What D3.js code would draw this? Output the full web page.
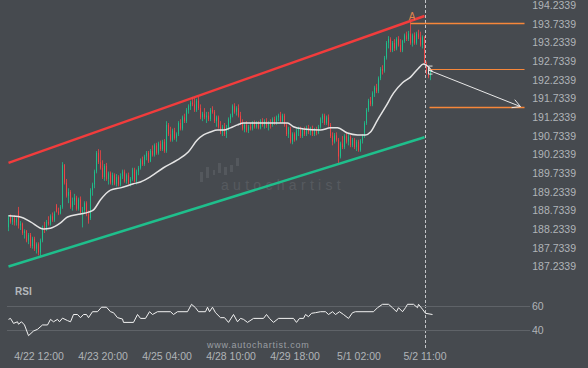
<!DOCTYPE html>
<html><head><meta charset="utf-8">
<script src="https://cdn.jsdelivr.net/npm/d3@7/dist/d3.min.js"></script>
<style>
html,body{margin:0;padding:0;background:#464a4f;overflow:hidden;}
svg{display:block;font-family:"Liberation Sans",Arial,Helvetica,sans-serif;}
</style></head>
<body><svg id="c" width="588" height="368"></svg>
<script>
// ---- DATA (hourly candles, index 0..211) ----
const open=[188.25,188.52,188.40,188.50,188.38,188.70,188.30,188.35,188.10,188.15,187.90,188.05,187.75,187.95,187.68,187.80,187.58,187.90,188.25,188.20,
188.40,188.35,188.55,188.45,188.85,188.68,188.62,188.80,189.92,189.45,189.10,189.20,188.80,188.95,189.05,188.75,189.00,188.65,188.72,188.90,
188.60,188.50,189.25,189.40,189.75,190.25,190.00,189.85,189.60,189.90,189.55,189.70,189.45,189.65,189.42,189.60,189.40,189.62,189.75,189.50,
189.65,189.45,189.55,189.80,189.50,189.75,189.85,190.05,189.95,190.15,190.25,190.02,190.30,190.20,190.45,190.25,190.50,190.35,190.55,190.30,
191.00,190.75,190.60,190.85,190.65,190.75,191.05,190.90,191.20,191.10,191.40,191.50,191.60,191.55,191.40,191.65,191.45,191.20,191.30,191.20,
191.25,191.15,191.40,191.35,191.10,191.20,190.95,190.80,190.95,190.75,190.90,191.15,191.25,191.50,191.35,191.45,191.25,191.05,190.90,191.00,
190.85,190.95,190.90,191.05,190.95,191.05,190.92,191.10,191.00,191.10,190.98,191.05,191.00,191.15,191.05,191.20,191.25,191.10,191.25,191.00,
190.75,190.90,190.55,190.75,190.60,190.85,190.90,190.70,190.88,190.75,190.92,190.80,190.90,190.75,190.88,190.78,190.95,191.15,191.25,191.05,
191.20,191.00,190.70,190.55,190.72,190.60,190.15,190.50,190.40,190.70,190.55,190.68,190.45,190.60,190.40,190.55,190.32,190.58,190.70,191.05,
191.40,191.65,191.55,191.85,192.00,191.90,192.25,192.50,192.45,192.80,193.20,193.30,193.00,193.20,193.05,193.30,193.15,193.00,193.25,193.40,
193.30,193.45,193.20,193.40,193.20,193.45,193.35,193.15,193.35,192.65,192.45,192.30];
const high=[188.58,188.60,188.55,188.58,188.52,188.80,188.42,188.38,188.20,188.18,188.10,188.10,188.00,188.00,187.85,187.85,187.95,188.30,188.40,188.45,
188.55,188.60,188.65,188.68,188.88,188.78,188.85,190.00,189.95,189.55,189.30,189.25,189.05,189.15,189.10,189.05,189.08,188.80,188.95,188.95,
188.70,189.30,189.45,189.80,190.30,190.35,190.32,190.05,189.95,189.98,189.75,189.75,189.72,189.70,189.68,189.65,189.70,189.80,189.80,189.70,
189.72,189.60,189.85,189.85,189.80,189.90,190.10,190.15,190.20,190.30,190.30,190.35,190.45,190.50,190.52,190.55,190.58,190.60,190.62,191.10,
191.05,190.95,190.90,190.92,190.80,191.10,191.15,191.25,191.30,191.45,191.55,191.65,191.75,191.72,191.70,191.75,191.55,191.35,191.45,191.35,
191.35,191.45,191.50,191.40,191.25,191.25,191.10,191.00,191.05,191.00,191.20,191.30,191.55,191.58,191.50,191.55,191.35,191.15,191.05,191.10,
191.00,191.05,191.10,191.12,191.10,191.10,191.15,191.18,191.15,191.18,191.10,191.15,191.20,191.22,191.25,191.30,191.35,191.30,191.30,191.05,
190.95,190.95,190.80,190.80,190.90,190.95,190.95,190.92,190.95,190.98,191.00,190.95,190.98,190.92,190.95,191.00,191.20,191.30,191.30,191.25,
191.28,191.05,190.80,190.78,190.80,190.65,190.55,190.70,190.75,190.80,190.75,190.72,190.65,190.65,190.60,190.60,190.62,190.75,191.10,191.45,
191.70,191.75,191.90,192.05,192.10,192.30,192.55,192.60,192.85,193.25,193.38,193.35,193.25,193.30,193.35,193.38,193.30,193.28,193.45,193.50,
193.52,193.82,193.45,193.48,193.50,193.55,193.50,193.40,193.38,192.70,192.55,192.50];
const low=[188.15,188.35,188.32,188.30,188.30,188.22,188.18,188.05,187.95,187.85,187.80,187.70,187.68,187.62,187.55,187.50,187.47,187.85,188.10,188.15,
188.30,188.30,188.40,188.40,188.65,188.58,188.60,188.75,189.40,189.05,188.90,188.75,188.70,188.85,188.70,188.70,188.60,188.25,188.62,188.55,
188.35,188.45,189.10,189.30,189.70,189.95,189.80,189.55,189.50,189.50,189.40,189.40,189.38,189.38,189.35,189.35,189.35,189.55,189.45,189.42,
189.40,189.35,189.50,189.45,189.40,189.65,189.80,189.90,189.90,190.05,189.98,190.00,190.15,190.15,190.20,190.20,190.30,190.30,190.25,190.25,
190.70,190.55,190.55,190.60,190.55,190.70,190.85,190.85,191.05,191.05,191.30,191.40,191.50,191.35,191.35,191.40,191.15,191.10,191.15,191.05,
191.10,191.10,191.30,191.05,190.95,190.90,190.75,190.70,190.70,190.65,190.85,191.05,191.20,191.30,191.25,191.20,191.00,190.85,190.80,190.80,
190.78,190.85,190.85,190.90,190.90,190.88,190.88,190.95,190.90,190.92,190.85,190.90,190.95,191.00,191.00,191.10,191.05,191.05,190.95,190.70,
190.65,190.50,190.48,190.55,190.58,190.70,190.65,190.65,190.70,190.70,190.75,190.72,190.70,190.70,190.72,190.75,190.90,191.05,191.00,191.00,
190.95,190.65,190.45,190.50,190.55,189.98,190.10,190.35,190.35,190.50,190.45,190.40,190.40,190.35,190.30,190.28,190.28,190.50,190.65,191.00,
191.35,191.50,191.50,191.75,191.85,191.85,192.20,192.35,192.40,192.75,193.05,192.95,192.95,192.98,193.00,193.10,192.95,192.95,193.20,193.25,
193.25,193.15,193.10,193.15,193.15,193.30,193.10,193.05,192.60,192.35,192.25,192.20];
const close=[188.52,188.40,188.50,188.38,188.46,188.30,188.35,188.10,188.15,187.90,188.05,187.75,187.95,187.68,187.80,187.58,187.90,188.25,188.20,188.40,
188.35,188.55,188.45,188.62,188.68,188.62,188.80,189.92,189.45,189.10,189.20,188.80,188.95,189.05,188.75,189.00,188.65,188.72,188.90,188.60,
188.45,189.25,189.40,189.75,190.25,190.00,189.85,189.60,189.90,189.55,189.70,189.45,189.65,189.42,189.60,189.40,189.62,189.75,189.50,189.65,
189.45,189.55,189.80,189.50,189.75,189.85,190.05,189.95,190.15,190.25,190.02,190.30,190.20,190.45,190.25,190.50,190.35,190.55,190.30,191.00,
190.75,190.60,190.85,190.65,190.75,191.05,190.90,191.20,191.10,191.40,191.50,191.60,191.55,191.40,191.65,191.45,191.20,191.30,191.20,191.25,
191.15,191.40,191.35,191.10,191.20,190.95,190.80,190.95,190.75,190.90,191.15,191.25,191.50,191.35,191.45,191.25,191.05,190.90,191.00,190.85,
190.95,190.90,191.05,190.95,191.05,190.92,191.10,191.00,191.10,190.98,191.05,191.00,191.15,191.05,191.20,191.25,191.10,191.25,191.00,190.75,
190.90,190.55,190.75,190.60,190.85,190.90,190.70,190.88,190.75,190.92,190.80,190.90,190.75,190.88,190.78,190.95,191.15,191.25,191.05,191.20,
191.00,190.70,190.55,190.72,190.60,190.15,190.50,190.40,190.70,190.55,190.68,190.45,190.60,190.40,190.55,190.32,190.58,190.70,191.05,191.40,
191.65,191.55,191.85,192.00,191.90,192.25,192.50,192.45,192.80,193.20,193.30,193.00,193.20,193.05,193.30,193.15,193.00,193.25,193.40,193.30,
193.45,193.20,193.40,193.20,193.45,193.35,193.15,193.35,192.65,192.45,192.30,192.45];

// moving average : candle index / price
const maIdx=[0,6,11,17.5,21,26,29.5,36,40,42.5,46,51,56,62.5,66,71,77.5,84.5,90,94.5,97.5,101,104.5,107.5,111,114.5,117.5,121,136,139.5,142.5,147.5,156,161,164.5,169.5,174.5,178.5,181,184.5,188.5,192.5,197,201,205,207.5,209.5,212];
const maVal=[188.56,188.53,188.40,188.21,188.23,188.37,188.53,188.61,188.66,188.72,188.99,189.25,189.31,189.42,189.47,189.61,189.85,190.06,190.28,190.60,190.73,190.81,190.86,190.86,190.92,191.00,191.05,191.05,191.05,191.05,190.95,190.89,190.86,190.92,190.92,190.78,190.73,190.73,190.81,191.13,191.48,191.85,192.13,192.28,192.52,192.63,192.58,192.42];

// RSI : candle index / value
const rsiIdx=[0,1,2.5,4.5,5,6.5,8,10,12.5,14.5,17,19.5,21,22.5,24.5,25.5,27,29.5,31,32.5,34.5,36,37.5,39,40,42,44.5,46.5,49,51,52.5,54.5,57,57.5,62.5,64.5,66,68.5,70.5,72,74.5,81,82.5,84.5,89.5,91.5,93.5,95,98.5,99.5,100.5,102,103.5,106,108,110,112.5,114.5,116,117.5,119.5,122.5,127.5,129,130.5,132.5,135,142.5,144,145.5,147.5,148.5,150,151.5,153.5,156,158.5,160,162,163.5,165.5,167.5,170,172,173.5,182.5,184.5,187,190,192,194,195,197,198.5,199.5,202.5,204.5,205,207,208.5,212];
const rsiVal=[49,49.8,45.7,47,45,47,44.4,35.6,39.4,40.8,44.4,44.4,49,47,49,47,50,48,47,53,53,50.4,53,53,50.4,55.3,55.3,59,59,55.3,54.5,50.4,49.3,46.5,46.5,53,49.8,49.8,55.3,53,55.3,55.3,53,55.3,55.3,61.4,58.6,55.3,55.3,59,55.3,59,54.5,50.4,50.4,46.5,53,47,49.8,49,46.5,49.8,49.8,53,49.8,46.5,49.8,49.8,46.5,49.8,49.8,53,51.2,54,54.5,55.3,55.3,53,55.3,53,55.3,53,49.8,54.5,55.3,55.3,58.6,61.4,61.4,58.6,55.3,58.6,55.3,58.6,61.4,61.4,58.6,61.4,57.3,54,53];

// channel, levels, forecast
const upperChannel=[[0,189.98],[208,193.92]];
const lowerChannel=[[0,187.20],[208,190.67]];
const levelPrice=[193.7339,192.49,191.49];
const levelStart=[201,210.5,210.5];
const forecastFrom=[210,192.47];
const forecastTo=[256,191.49];
const patternPoint=[201,193.7339];

// axes
const priceTicks=[194.2339,193.7339,193.2339,192.7339,192.2339,191.7339,191.2339,190.7339,190.2339,189.7339,189.2339,188.7339,188.2339,187.7339,187.2339];
const rsiTicks=[40,60];
const timeIdx=[15,47,79,111,143,175,208];
const timeLabels=["4/22 12:00","4/23 20:00","4/25 04:00","4/28 10:00","4/29 18:00","5/1 02:00","5/2 11:00"];

// ---- DRAW ----
const svg=d3.select("#c");
const x=d3.scaleLinear().domain([0,211]).range([8.5,430.5]);
const y=d3.scaleLinear().domain([187.2339,194.2339]).range([265.3,4.3]);
const yR=d3.scaleLinear().domain([40,60]).range([330.3,306]);
const FONT='"Liberation Sans",Arial,Helvetica,sans-serif';
const UP="#1fbf8c", DN="#ee4545", ORANGE="#f7873a", LBL="#b0b4b8";

svg.append("rect").attr("width",588).attr("height",368).attr("fill","#464a4f");

// watermark
const wm=svg.append("g").attr("fill","#54585d");
[[200,172,3,10],[206,167,3,11],[213,170,2,5],[218,163,3,10],[224,167,3,8],[230,165,3,7],[236,158,3,8]].forEach(r=>{
  wm.append("rect").attr("x",r[0]).attr("y",r[1]).attr("width",r[2]).attr("height",r[3]);
});
svg.append("text").attr("x",221).attr("y",190).attr("fill","#565a5f")
  .style("font-family",FONT).style("font-size","14px").style("letter-spacing","4.3px").text("autochartist");

// channel lines
const cl=d3.line().x(d=>x(d[0])).y(d=>y(d[1]));
svg.append("path").attr("d",cl(upperChannel)).attr("stroke","#f23c3c").attr("stroke-width",2.5).attr("fill","none");
svg.append("path").attr("d",cl(lowerChannel)).attr("stroke","#1fbf8c").attr("stroke-width",2.5).attr("fill","none");

// candles
const idx=d3.range(open.length);
const cg=svg.append("g");
cg.selectAll("line.w").data(idx).join("line").attr("class","w")
  .attr("x1",i=>x(i)).attr("x2",i=>x(i)).attr("y1",i=>y(high[i])).attr("y2",i=>y(low[i]))
  .attr("stroke",i=>close[i]>=open[i]?UP:DN).attr("stroke-width",1).attr("opacity",0.8);
cg.selectAll("rect.b").data(idx).join("rect").attr("class","b")
  .attr("x",i=>x(i)-0.5).attr("width",1)
  .attr("y",i=>y(Math.max(open[i],close[i])))
  .attr("height",i=>Math.max(1,Math.abs(y(open[i])-y(close[i]))))
  .attr("fill",i=>close[i]>=open[i]?UP:DN);

// moving average
const maPts=maIdx.map((d,k)=>[d,maVal[k]]);
svg.append("path").attr("d",d3.line().x(d=>x(d[0])).y(d=>y(d[1])).curve(d3.curveMonotoneX)(maPts))
  .attr("stroke","#e4e4e4").attr("stroke-width",1.5).attr("fill","none");

// dashed vertical line
svg.append("line").attr("x1",x(208.5)).attr("x2",x(208.5)).attr("y1",0).attr("y2",350)
  .attr("stroke","#c4c6c9").attr("stroke-width",1).attr("stroke-dasharray","3,2");

// orange levels
levelPrice.forEach((p,k)=>{
  svg.append("line").attr("x1",x(levelStart[k])).attr("x2",x(258)).attr("y1",Math.round(y(p))+0.5).attr("y2",Math.round(y(p))+0.5)
    .style("stroke",ORANGE).attr("stroke-width",k===1?1.1:1.4);
});
svg.append("text").attr("x",x(patternPoint[0])+1.5).attr("y",y(patternPoint[1])-2.5).attr("text-anchor","middle")
  .attr("fill","#e0844c").style("font-family",FONT).style("font-size","10px").text("A");

// forecast arrow
const ax1=x(forecastFrom[0]), ay1=y(forecastFrom[1]), ax2=x(forecastTo[0]), ay2=y(forecastTo[1]);
svg.append("line").attr("x1",ax1).attr("y1",ay1).attr("x2",ax2).attr("y2",ay2).attr("stroke","#e8e8e8").attr("stroke-width",1);
const ang=Math.atan2(ay2-ay1,ax2-ax1), hl=9, sp=0.5;
svg.append("path").attr("d",`M${ax2-hl*Math.cos(ang-sp)},${ay2-hl*Math.sin(ang-sp)}L${ax2},${ay2}L${ax2-hl*Math.cos(ang+sp)},${ay2-hl*Math.sin(ang+sp)}`)
  .attr("stroke","#e8e8e8").attr("stroke-width",1).attr("fill","none");
svg.append("path").attr("d",`M${ax1+4},${ay1-4}H${ax1}V${ay1+4}H${ax1+4}M${ax1},${ay1}H${ax1+3}`)
  .attr("stroke","#e0e0e0").attr("stroke-width",1).attr("fill","none");

// price axis
const ya=svg.append("g").attr("transform","translate(576,1)")
  .call(d3.axisLeft(y).tickValues(priceTicks).tickFormat(d3.format(".4f")).tickSize(0).tickPadding(0));
ya.select(".domain").remove();
ya.selectAll("text").attr("fill",LBL).style("font-family",FONT).style("font-size","10.5px");

// RSI panel
svg.append("text").attr("x",15).attr("y",295).attr("fill","#b4b8bc").style("font-family",FONT)
  .style("font-size","10px").style("font-weight","bold").text("RSI");
svg.selectAll("line.rg").data(rsiTicks).join("line").attr("class","rg")
  .attr("x1",7).attr("x2",530).attr("y1",d=>Math.round(yR(d))+0.5).attr("y2",d=>Math.round(yR(d))+0.5)
  .attr("stroke","#5f6368").attr("stroke-width",1);
const ra=svg.append("g").attr("transform","translate(532,0)")
  .call(d3.axisRight(yR).tickValues(rsiTicks).tickFormat(d3.format("d")).tickSize(0).tickPadding(0));
ra.select(".domain").remove();
ra.selectAll("text").attr("fill",LBL).style("font-family",FONT).style("font-size","10.5px");
const rsiPts=rsiIdx.map((d,k)=>[d,rsiVal[k]]);
svg.append("path").attr("d",d3.line().x(d=>x(d[0])).y(d=>yR(d[1]))(rsiPts))
  .attr("stroke","#f2f2f2").attr("stroke-width",1).attr("fill","none");

// watermark url
svg.append("text").attr("x",207).attr("y",348).attr("fill","#9a9ea3").style("font-family",FONT)
  .style("font-size","9px").style("letter-spacing","0.75px").text("www.autochartist.com");

// time axis
const xa=svg.append("g").attr("transform","translate(0,353)")
  .call(d3.axisBottom(x).tickValues(timeIdx).tickFormat((d,k)=>timeLabels[k]).tickSize(0).tickPadding(0));
xa.select(".domain").remove();
xa.selectAll("text").attr("fill",LBL).style("font-family",FONT).style("font-size","10.5px");
</script></body></html>
